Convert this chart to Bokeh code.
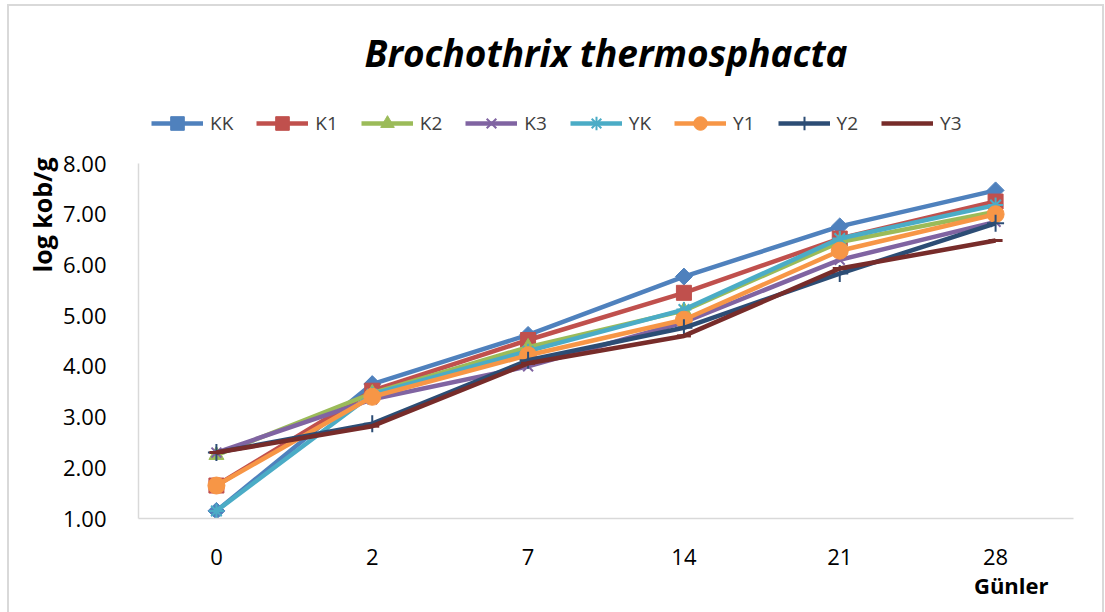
import math
from bokeh.plotting import figure
from bokeh.models import (Legend, LegendItem, Title, FactorRange, Range1d,
                          NumeralTickFormatter, FixedTicker)
from bokeh.embed import file_html
from bokeh.resources import INLINE

days = ["0", "2", "7", "14", "21", "28"]
names = ["KK", "K1", "K2", "K3", "YK", "Y1", "Y2", "Y3"]
KK = [1.15, 3.65, 4.62, 5.77, 6.76, 7.47]
K1 = [1.65, 3.52, 4.52, 5.45, 6.52, 7.25]
K2 = [2.25, 3.47, 4.38, 5.10, 6.45, 7.05]
K3 = [2.30, 3.35, 4.00, 4.87, 6.10, 6.85]
YK = [1.15, 3.45, 4.30, 5.12, 6.52, 7.18]
Y1 = [1.65, 3.40, 4.22, 4.92, 6.28, 7.00]
Y2 = [2.30, 2.87, 4.12, 4.76, 5.83, 6.82]
Y3 = [2.30, 2.82, 4.06, 4.60, 5.93, 6.48]
y_ticks = [1, 2, 3, 4, 5, 6, 7, 8]
values = [KK, K1, K2, K3, YK, Y1, Y2, Y3]
colors = ["#4F81BD", "#C0504D", "#9BBB59", "#8064A2", "#4BACC6", "#F79646", "#2C4D75", "#772C2A"]
markers = ["square", "square", "triangle", "x", "asterisk", "circle", "cross", "dash"]
msizes = [12, 15, 15, 14, 15, 17, 17, 14]
angles = [math.pi / 4, 0, 0, 0, 0, 0, 0, 0]

FONT = "Open Sans"

# layout: axis 1..8 spans screen y 163..518; frame extends up to y=80 to host the legend
TOP, AX_TOP, AX_BOT = 80, 163, 518
px_per_unit = (AX_BOT - AX_TOP) / (y_ticks[-1] - y_ticks[0])
y_end = y_ticks[-1] + (AX_TOP - TOP) / px_per_unit

p = figure(width=1105, height=612, x_range=FactorRange(factors=days, range_padding=0),
           y_range=Range1d(y_ticks[0], y_end), output_backend="svg", toolbar_location=None,
           min_border_left=138, min_border_right=32, min_border_top=TOP, min_border_bottom=94,
           title="Brochothrix thermosphacta")
g = "linear-gradient(#d9d9d9,#d9d9d9)"
p.border_fill_color = None
p.background_fill_color = "white"
p.styles = {
    "background": f"{g} 7px 4px / 2px 100% no-repeat, {g} 7px 4px / 1097px 2px no-repeat, "
                  f"{g} 1102px 4px / 2px 100% no-repeat, white"
}
p.outline_line_color = None
p.grid.visible = False

p.title.align = "center"
p.title.text_font = FONT
p.title.text_font_size = "37px"
p.title.text_font_style = "bold italic"
p.title.text_color = "#000000"
p.title.standoff = 6

p.yaxis.ticker = FixedTicker(ticks=y_ticks)
p.yaxis.bounds = (y_ticks[0], y_ticks[-1])
p.yaxis.formatter = NumeralTickFormatter(format="0.00")
p.yaxis.major_label_standoff = 26

for ax in (p.xaxis[0], p.yaxis[0]):
    ax.major_tick_line_color = None
    ax.minor_tick_line_color = None
    ax.axis_line_color = "#d9d9d9"
    ax.axis_line_width = 1.5
    ax.major_label_text_font = FONT
    ax.major_label_text_font_size = "22px"
    ax.major_label_text_color = "#000000"
p.xaxis.major_label_standoff = 24

items = []
for name, vals, c, m, s, a in zip(names, values, colors, markers, msizes, angles):
    r1 = p.line(days, vals, line_color=c, line_width=4.5)
    thin = m in ("x", "asterisk", "cross")
    r2 = p.scatter(days, vals, marker=m, size=s, angle=a, fill_color=c,
                   line_color=c, line_width=2 if thin else (3 if m == "dash" else 1))
    items.append(LegendItem(label=name, renderers=[r1, r2]))

legend = Legend(items=items, orientation="horizontal", location=(13, 378),
                glyph_width=52, glyph_height=34, label_standoff=7, spacing=23,
                label_text_font=FONT, label_text_font_size="19px",
                label_text_color="#404040", border_line_color=None,
                background_fill_alpha=0, margin=0, padding=2)
p.add_layout(legend)

p.add_layout(Title(text="log kob/g", align="right", offset=77, text_font=FONT,
                   text_font_style="bold", text_font_size="25px", text_color="#000000",
                   standoff=2), "left")

p.add_layout(Title(text="Günler", align="right", offset=25, text_font=FONT,
                   text_font_style="bold", text_font_size="22px", text_color="#000000",
                   standoff=0), "below")

open("out.html", "w").write(file_html(p, INLINE))
